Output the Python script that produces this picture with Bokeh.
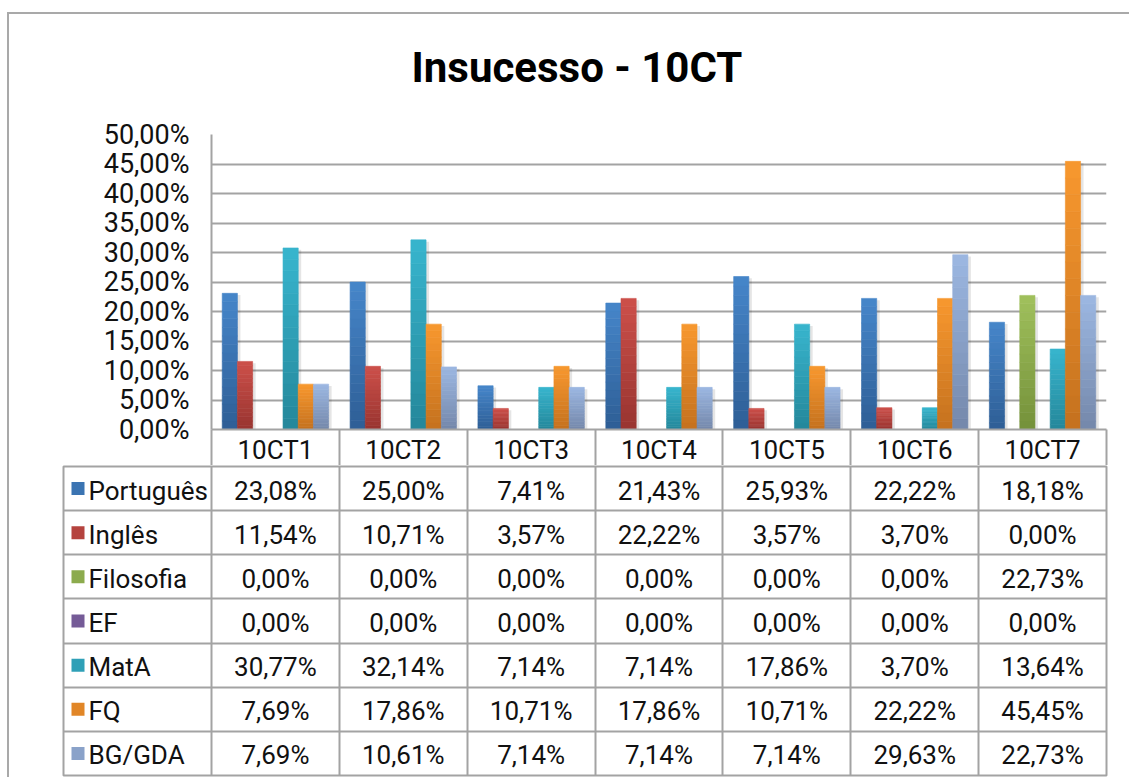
import numpy as np
from bokeh.plotting import figure
from bokeh.models import Range1d, FixedTicker, ColumnDataSource, Title
from bokeh.embed import file_html
from bokeh.resources import INLINE
from bokeh.core.properties import value

# ---------------- data ----------------
categories = ["10CT1", "10CT2", "10CT3", "10CT4", "10CT5", "10CT6", "10CT7"]
series_names = ["Português", "Inglês", "Filosofia", "EF", "MatA", "FQ", "BG/GDA"]
portugues = [23.08, 25.00, 7.41, 21.43, 25.93, 22.22, 18.18]
ingles = [11.54, 10.71, 3.57, 22.22, 3.57, 3.70, 0.00]
filosofia = [0.00, 0.00, 0.00, 0.00, 0.00, 0.00, 22.73]
ef = [0.00, 0.00, 0.00, 0.00, 0.00, 0.00, 0.00]
mata = [30.77, 32.14, 7.14, 7.14, 17.86, 3.70, 13.64]
fq = [7.69, 17.86, 10.71, 17.86, 10.71, 22.22, 45.45]
bg_gda = [7.69, 10.61, 7.14, 7.14, 7.14, 29.63, 22.73]
series_values = [portugues, ingles, filosofia, ef, mata, fq, bg_gda]
y_ticks = [0, 5, 10, 15, 20, 25, 30, 35, 40, 45, 50]
title_text = "Insucesso - 10CT"

# ---------------- style ----------------
top_colors = ["#4686CA", "#CD504A", "#A0C05C", "#8769AA", "#38B5CE", "#F8982F", "#9CB8E2"]
bottom_colors = ["#2E5E95", "#983430", "#74913A", "#5E497F", "#24879A", "#C4711E", "#7487AA"]
FONT = "Roboto"
GRAY = "#a3a3a3"
TXT = "#111111"
BORDER = "2px solid #a9a9a9"


def fmt(v):
    return f"{v:.2f}".replace(".", ",") + "%"


def lerp(c1, c2, t):
    a = [int(c1[i:i + 2], 16) for i in (1, 3, 5)]
    b = [int(c2[i:i + 2], 16) for i in (1, 3, 5)]
    return "#%02x%02x%02x" % tuple(int(round(a[k] + (b[k] - a[k]) * t)) for k in range(3))


ncat = len(categories)
nser = len(series_names)

# layout constants (pixels)
FRAME_W = 895
PX_PER_CAT = FRAME_W / ncat
LABEL_COL = 148
BAR_W = 15.2 / PX_PER_CAT
HEADER_H = 37

# ---------------- chart ----------------
p1 = figure(width=1122, height=453, x_range=Range1d(0, ncat), y_range=Range1d(0, 50),
            output_backend="svg", toolbar_location=None,
            min_border_left=202, min_border_right=25, min_border_top=120, min_border_bottom=HEADER_H,
            styles={"border-left": BORDER, "border-top": BORDER,
                    "margin-left": "7px", "margin-top": "12px"})
p1.outline_line_color = None

# bars with vertical gradient + faint shadow
NSEG = 16
xs, bots, tops, cols = [], [], [], []
sx, stop = [], []
for j, vals in enumerate(series_values):
    for i, v in enumerate(vals):
        xc = i + 0.5 + (j - (nser - 1) / 2) * BAR_W
        if v <= 0:
            continue
        sx.append(xc + 3 / PX_PER_CAT)
        stop.append(max(v - 0.3, 0))
        for k in range(NSEG):
            xs.append(xc)
            bots.append(v * k / NSEG)
            tops.append(v * (k + 1) / NSEG)
            cols.append(lerp(bottom_colors[j], top_colors[j], (k + 0.5) / NSEG))

p1.vbar(x=sx, top=stop, bottom=0, width=BAR_W, fill_color="#000000", fill_alpha=0.10, line_color=None)
src = ColumnDataSource(dict(x=xs, bottom=bots, top=tops, color=cols))
p1.vbar(x="x", bottom="bottom", top="top", width=BAR_W, fill_color="color", line_color="color",
        line_width=0.6, source=src)

# y axis
p1.yaxis.ticker = FixedTicker(ticks=y_ticks)
p1.yaxis.major_label_overrides = {t: fmt(t) for t in y_ticks}
p1.yaxis.major_tick_line_color = None
p1.yaxis.minor_tick_line_color = None
p1.yaxis.axis_line_color = GRAY
p1.yaxis.axis_line_width = 2
p1.yaxis.major_label_standoff = 16
p1.yaxis.major_label_text_font = FONT
p1.yaxis.major_label_text_font_size = "27px"
p1.yaxis.major_label_text_color = TXT
p1.ygrid.ticker = FixedTicker(ticks=y_ticks)
p1.ygrid.grid_line_color = GRAY
p1.ygrid.grid_line_width = 2
p1.xgrid.grid_line_color = None

# x axis = header row of the data table
p1.xaxis.ticker = FixedTicker(ticks=[i + 0.5 for i in range(ncat)], minor_ticks=list(range(ncat + 1)))
p1.xaxis.major_label_overrides = {i + 0.5: c for i, c in enumerate(categories)}
p1.xaxis.major_tick_line_color = None
p1.xaxis.major_tick_out = 0
p1.xaxis.minor_tick_in = 0
p1.xaxis.minor_tick_out = HEADER_H
p1.xaxis.minor_tick_line_color = GRAY
p1.xaxis.minor_tick_line_width = 2
p1.xaxis.axis_line_color = GRAY
p1.xaxis.axis_line_width = 2
p1.xaxis.major_label_standoff = -HEADER_H + 5
p1.xaxis.major_label_text_font = FONT
p1.xaxis.major_label_text_font_size = "26px"
p1.xaxis.major_label_text_color = TXT

# real title (outermost panel) + a spacer panel between it and the frame
p1.title.text = title_text
p1.title.align = "left"
p1.title.offset = 200
p1.title.vertical_align = "top"
p1.title.standoff = 0
p1.title.text_font = FONT
p1.title.text_font_style = "bold"
p1.title.text_font_size = "42px"
p1.title.text_color = "#000000"
p1.add_layout(Title(text=" ", text_font_size="1px", standoff=38), "above")

# ---------------- data table ----------------
label_w = LABEL_COL / PX_PER_CAT
p2 = figure(width=1113, height=312, x_range=Range1d(-label_w, ncat), y_range=Range1d(0, nser),
            output_backend="svg", toolbar_location=None,
            min_border_left=54, min_border_right=16, min_border_top=1, min_border_bottom=2,
            styles={"border-left": BORDER, "margin-left": "7px"})
p2.axis.visible = False
p2.outline_line_color = GRAY
p2.outline_line_width = 2
p2.xgrid.ticker = FixedTicker(ticks=list(range(ncat)))
p2.ygrid.ticker = FixedTicker(ticks=list(range(1, nser)))
p2.grid.grid_line_color = GRAY
p2.grid.grid_line_width = 2

tx, ty, tt = [], [], []
for r, vals in enumerate(series_values):
    for i, v in enumerate(vals):
        tx.append(i + 0.5)
        ty.append(nser - 0.5 - r)
        tt.append(fmt(v))
p2.text(x=tx, y=ty, text=tt, text_align="center", text_baseline="middle", y_offset=2,
        text_font=value(FONT), text_font_size="26px", text_color=TXT)

row_y = [nser - 0.5 - r for r in range(nser)]
p2.text(x=[-label_w] * nser, y=row_y, text=series_names, x_offset=25, y_offset=2,
        text_align="left", text_baseline="middle",
        text_font=value(FONT), text_font_size="26px", text_color=TXT)
key_colors = [lerp(bottom_colors[j], top_colors[j], 0.55) for j in range(nser)]
p2.rect(x=[-label_w + 14.5 / PX_PER_CAT] * nser, y=row_y, width=13, height=13,
        width_units="screen", height_units="screen", fill_color=key_colors, line_color=None)

open("out.html", "w").write(file_html([p1, p2], INLINE))
